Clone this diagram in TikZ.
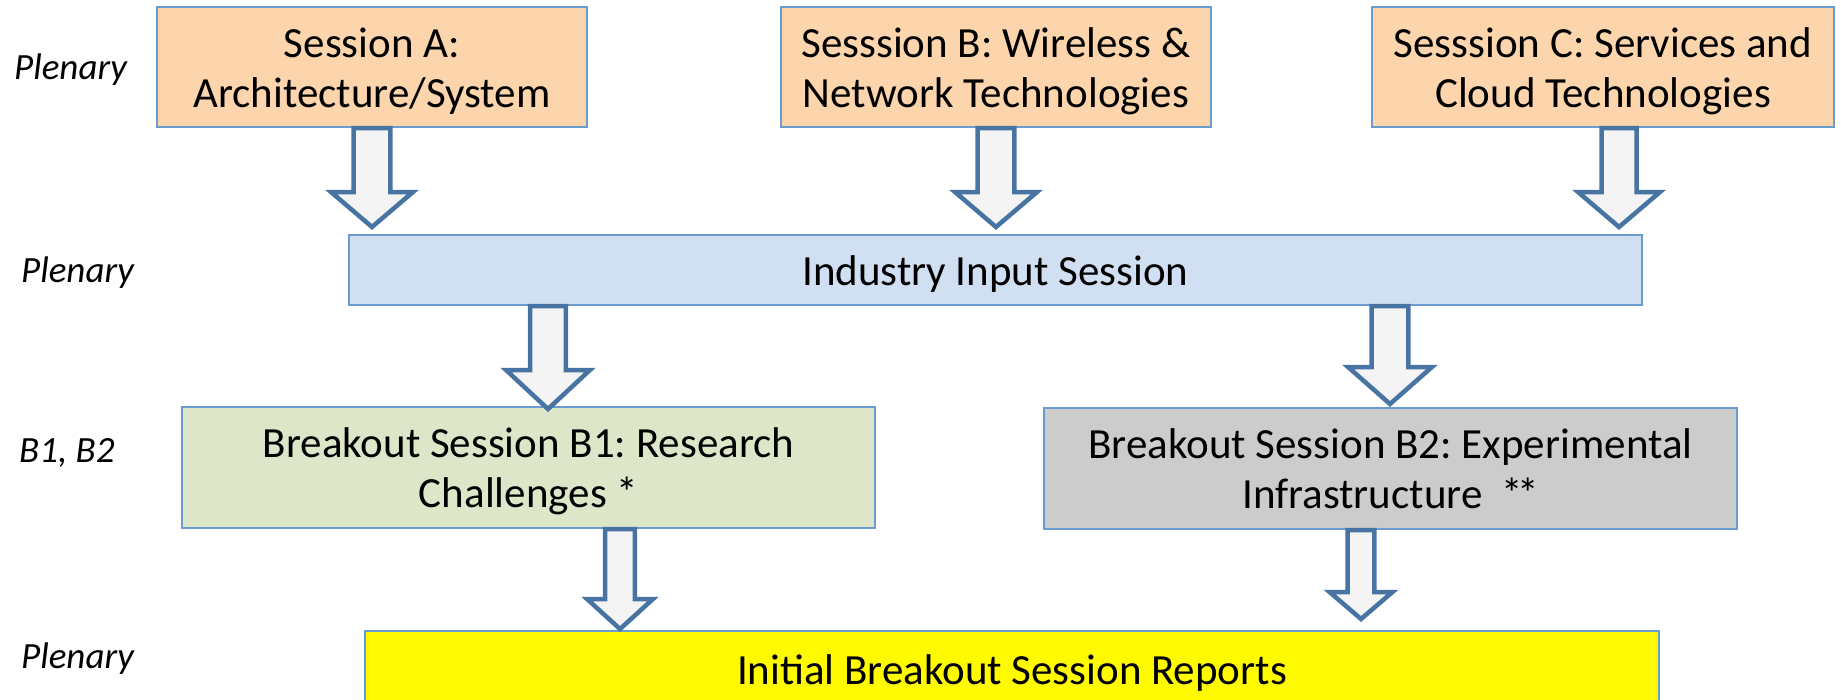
\documentclass[tikz,border=0pt]{standalone}
\usepackage{fontspec}
\setmainfont{Carlito}
\usetikzlibrary{calc}
\frenchspacing
\definecolor{boxblue}{RGB}{108,155,208}
\definecolor{arrowblue}{RGB}{72,116,164}
\definecolor{arrowfill}{RGB}{244,244,244}
\definecolor{peach}{RGB}{252,213,172}
\definecolor{indblue}{RGB}{208,224,242}
\definecolor{olivelt}{RGB}{221,230,201}
\definecolor{greylt}{RGB}{204,204,204}
\definecolor{yel}{RGB}{255,250,0}
\newcommand\bst{\rule[-10pt]{0pt}{50pt}}
% #1 x, #2 source node, #3 target node, #4 shaft half width, #5 head half width, #6 head length, #7 gap above target
\newcommand\blockarrow[7]{%
  \draw[blockarr] let \p1 = (#2.south), \p2 = (#3.north) in
    (#1pt-#4pt, \y1) -- (#1pt+#4pt, \y1)
    -- (#1pt+#4pt, \y2+#7pt+#6pt) -- (#1pt+#5pt, \y2+#7pt+#6pt)
    -- (#1pt, \y2+#7pt)
    -- (#1pt-#5pt, \y2+#7pt+#6pt) -- (#1pt-#4pt, \y2+#7pt+#6pt) -- cycle;}
\begin{document}
\begin{tikzpicture}[x=1pt,y=-1pt,
  sbox/.style={draw=boxblue, line width=2pt, inner sep=0pt, align=center,
    font=\fontsize{43}{50}\selectfont},
  side/.style={anchor=base west, inner sep=0pt, font=\fontsize{37}{44}\selectfont\itshape},
  blockarr/.style={draw=arrowblue, fill=arrowfill, line width=4.5pt, line join=miter}]
\useasboundingbox (0,0) rectangle (1841,699);
\begin{scope}
\clip (0,0) rectangle (1841,699);
% side labels
\node[side] (l1) at (14,79) {Plenary};
\node[side] (l2) at (21,282) {Plenary};
\node[side] (l3) at (19,462) {B1, B2};
\node[side] (l4) at (21,668) {Plenary};
% boxes
\node[sbox, fill=peach, minimum width=430pt, minimum height=120pt] (sa) at (372,67)
  {\bst Session A:\\ \bst Architecture/System};
\node[sbox, fill=peach, minimum width=430pt, minimum height=120pt] (sb) at (996,67)
  {\bst Sesssion B: Wireless \&\\ \bst Network Technologies};
\node[sbox, fill=peach, minimum width=462pt, minimum height=120pt] (sc) at (1603,67)
  {\bst Sesssion C: Services and\\ \bst Cloud Technologies};
\node[sbox, fill=indblue, minimum width=1293pt, minimum height=70pt] (ind) at (995.5,270)
  {\bst Industry Input Session};
\node[sbox, fill=olivelt, minimum width=693pt, minimum height=121pt] (b1) at (528.5,467.5)
  {\bst Breakout Session B1: Research\\ \bst Challenges *};
\node[sbox, fill=greylt, minimum width=693pt, minimum height=121pt] (b2) at (1390.5,468.5)
  {\bst Breakout Session B2: Experimental\\ \bst Infrastructure \ *\kern-6pt*};
\node[sbox, fill=yel, minimum width=1294pt, minimum height=76pt] (rep) at (1012,669)
  {\bst Initial Breakout Session Reports};
% block arrows
\blockarrow{372}{sa}{ind}{18.3}{41}{35}{7}
\blockarrow{996}{sb}{ind}{18.3}{41}{35}{7}
\blockarrow{1619}{sc}{ind}{17.5}{41}{35}{7}
\blockarrow{548}{ind}{b1}{17.8}{42}{39}{-3}
\blockarrow{1390}{ind}{b2}{18.3}{42}{37}{3}
\blockarrow{620}{b1}{rep}{14.8}{33}{30}{1}
\blockarrow{1361}{b2}{rep}{13.3}{31.5}{27}{11}
\end{scope}
\end{tikzpicture}
\end{document}
